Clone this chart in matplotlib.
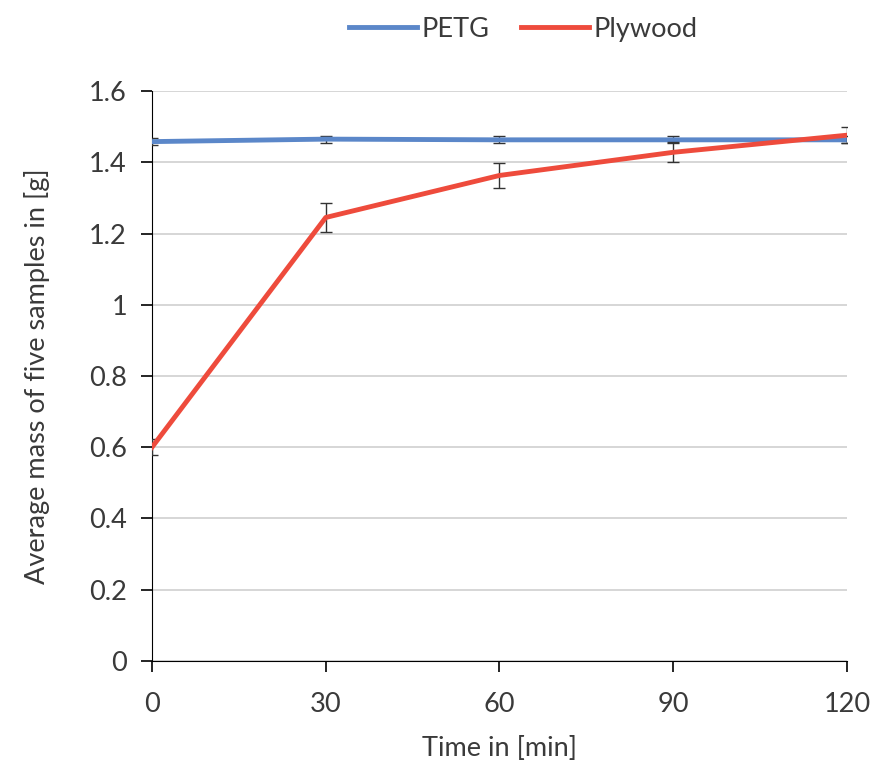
import matplotlib.pyplot as plt
from matplotlib.lines import Line2D

plt.rcParams["font.family"] = ["Lato", "DejaVu Sans"]

times = [0, 30, 60, 90, 120]
petg = [1.458, 1.465, 1.463, 1.463, 1.463]
petg_err = [0.010, 0.010, 0.010, 0.010, 0.010]
plywood = [0.600, 1.245, 1.363, 1.428, 1.476]
plywood_err = [0.022, 0.040, 0.034, 0.028, 0.022]

blue = "#5b87c9"
red = "#ee4b3c"
txt = "#3a3a3a"

fig = plt.figure(figsize=(8.72, 7.65), dpi=100)
ax = fig.add_axes([0.1743, 0.136, 0.797, 0.745])

ax.errorbar(times, petg, yerr=petg_err, color=blue, lw=3.5, ecolor="#333333",
            elinewidth=1.0, capsize=4, capthick=1.0, zorder=3)
ax.errorbar(times, plywood, yerr=plywood_err, color=red, lw=3.5, ecolor="#333333",
            elinewidth=1.0, capsize=4, capthick=1.0, zorder=4)

ax.set_xlim(0, 120)
ax.set_ylim(0, 1.6)
ax.set_xticks(times)
ax.set_yticks([0, 0.2, 0.4, 0.6, 0.8, 1.0, 1.2, 1.4, 1.6])
ax.set_yticklabels(["0", "0.2", "0.4", "0.6", "0.8", "1", "1.2", "1.4", "1.6"])
ax.grid(axis="y", color="#d0d0d0", lw=1.2)
ax.set_axisbelow(True)
for s in ["top", "right"]:
    ax.spines[s].set_visible(False)
ax.tick_params(axis="both", direction="out", length=8, width=1.2, labelsize=19.5,
               labelcolor=txt, pad=10)
ax.tick_params(axis="x", pad=14)

ax.set_xlabel("Time in [min]", fontsize=19.5, color=txt, labelpad=14)
ax.set_ylabel("Average mass of five samples in [g]", fontsize=19.5, color=txt, labelpad=28)

handles = [Line2D([], [], color=blue, lw=3.5), Line2D([], [], color=red, lw=3.5)]
leg = fig.legend(handles, ["PETG", "Plywood"], loc="upper center",
                 bbox_to_anchor=(0.6, 1.01), ncol=2, frameon=False,
                 fontsize=19.5, handlelength=2.5, columnspacing=1.2, handletextpad=0.15)
for t in leg.get_texts():
    t.set_color(txt)

fig.savefig("out.png", dpi=100)
